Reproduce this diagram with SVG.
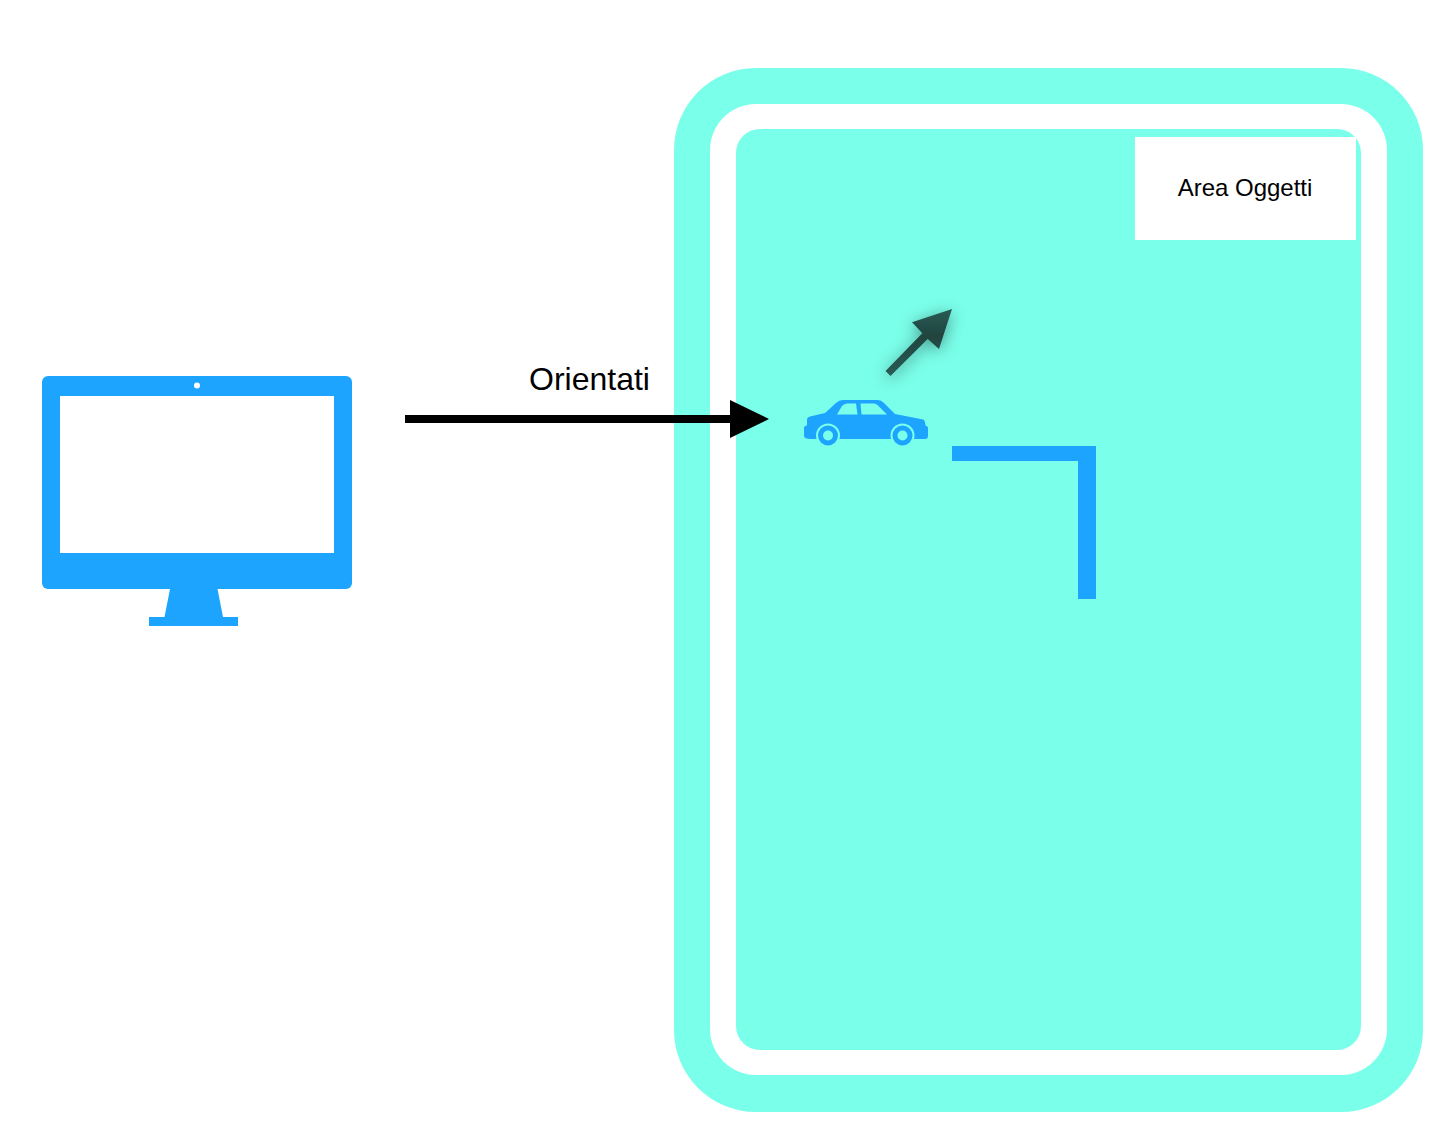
<svg xmlns="http://www.w3.org/2000/svg" width="1452" height="1128" viewBox="0 0 1452 1128">
<defs>
<style>
.blue{fill:#1da4ff}
.teal{fill:#7affea}
.white{fill:#fff}
text{font-family:"Liberation Sans",Arial,sans-serif;fill:#000}
</style>
<filter id="soft" x="-60%" y="-60%" width="220%" height="220%"><feDropShadow dx="0" dy="3" stdDeviation="8" flood-color="#000" flood-opacity="0.4"/></filter>
<linearGradient id="dark" x1="0" y1="0" x2="0" y2="1"><stop offset="0" stop-color="#2a5c56"/><stop offset="0.4" stop-color="#20443f"/><stop offset="1" stop-color="#2a5c56"/></linearGradient>
<marker id="head" markerUnits="userSpaceOnUse" markerWidth="39" markerHeight="38" refX="0" refY="19" orient="auto"><path d="M0 0L39 19L0 38Z" fill="#000"/></marker>
</defs>
<rect width="1452" height="1128" fill="#fff"/>
<g id="area">
<rect class="teal" x="674" y="68" width="749" height="1044" rx="82" ry="82"/>
<rect class="white" x="710" y="104" width="677" height="971" rx="46" ry="46"/>
<rect class="teal" x="736" y="129" width="625" height="921" rx="24" ry="24"/>
</g>
<g id="area-label">
<rect class="white" x="1135" y="137" width="221" height="103"/>
<text x="1245" y="196" font-size="24" text-anchor="middle">Area Oggetti</text>
</g>
<g id="monitor">
<rect class="blue" x="42" y="376" width="310" height="213" rx="6" ry="6"/>
<rect class="white" x="60" y="396" width="274" height="157"/>
<circle class="white" cx="197" cy="385.500" r="3"/>
<path class="blue" d="M170 589H217.500L223 617H238V626H149V617H164.500Z"/>
</g>
<g id="car">
<path class="blue" d="M804 428Q804 426 807 425.500V420Q807 417 810 416.500L825 413L836 403Q839 400 843 400H878Q881 400 884 403L895 414L923 419.500Q925 420 925.500 425.500Q928 426 928 428V436Q928 439 925 439H811Q804 439 804 436Z"/>
<path class="teal" d="M837 414.500L842 406Q844 403.500 847 403.500H856L857.500 414.500ZM860.500 403.500H874Q876 403.500 878 405.500L887 414.500H861.500Z"/>
<circle class="teal" cx="828" cy="435.500" r="12"/>
<circle class="blue" cx="828" cy="435.500" r="10"/>
<circle class="teal" cx="828" cy="435.500" r="5"/>
<circle class="teal" cx="902.500" cy="435.500" r="12"/>
<circle class="blue" cx="902.500" cy="435.500" r="10"/>
<circle class="teal" cx="902.500" cy="435.500" r="5"/>
</g>
<g id="wall">
<path class="blue" d="M952 446H1096V599H1078V461H952Z"/>
</g>
<g id="connectors">
<line x1="405" y1="419" x2="730" y2="419" stroke="#000" stroke-width="8" marker-end="url(#head)"/>
<path d="M885.500 371L922.300 333.300L912 322.300L952 309L939 349L927.700 339L890.500 376Z" fill="url(#dark)" filter="url(#soft)"/>
</g>
<g id="connector-label">
<text x="589.500" y="390" font-size="32" text-anchor="middle">Orientati</text>
</g>
</svg>
